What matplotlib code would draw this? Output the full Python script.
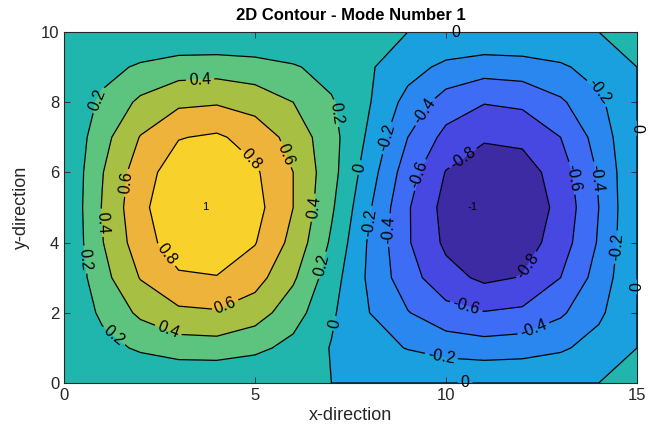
import matplotlib
matplotlib.use('Agg')
import numpy as np
import matplotlib.pyplot as plt

plt.rcParams['font.family'] = ['Liberation Sans', 'DejaVu Sans']

# grid of the plate
x_dir = [0, 1, 2, 3, 4, 5, 6, 7, 8, 9, 10, 11, 12, 13, 14, 15]
y_dir = [0, 1, 2, 3, 4, 5, 6, 7, 8, 9, 10]

# first mode shape, one row per y value (y = 0 ... 10)
mode_1 = [
    [0, 0.00, 0.00, 0.00, 0.00, 0.00, 0.00, 0.00, 0.00, 0.00, 0.00, 0.00, 0.00, 0.00, 0.00, 0],
    [0, 0.13, 0.23, 0.30, 0.31, 0.25, 0.14, -0.01, -0.12, -0.21, -0.28, -0.31, -0.29, -0.23, -0.12, 0],
    [0, 0.24, 0.44, 0.56, 0.58, 0.49, 0.29, 0.03, -0.20, -0.39, -0.53, -0.59, -0.56, -0.43, -0.24, 0],
    [0, 0.33, 0.61, 0.77, 0.79, 0.68, 0.43, 0.09, -0.24, -0.52, -0.73, -0.84, -0.79, -0.60, -0.32, 0],
    [0, 0.39, 0.71, 0.91, 0.94, 0.81, 0.54, 0.17, -0.23, -0.58, -0.84, -0.95, -0.90, -0.70, -0.38, 0],
    [0, 0.41, 0.75, 0.96, 1.00, 0.87, 0.60, 0.23, -0.18, -0.58, -0.87, -1.00, -0.95, -0.74, -0.40, 0],
    [0, 0.39, 0.71, 0.91, 0.94, 0.83, 0.60, 0.27, -0.11, -0.51, -0.81, -0.95, -0.90, -0.70, -0.38, 0],
    [0, 0.33, 0.61, 0.79, 0.83, 0.72, 0.53, 0.27, -0.04, -0.40, -0.66, -0.77, -0.75, -0.60, -0.32, 0],
    [0, 0.24, 0.44, 0.56, 0.58, 0.52, 0.40, 0.22, 0.01, -0.27, -0.49, -0.59, -0.56, -0.43, -0.24, 0],
    [0, 0.13, 0.23, 0.30, 0.31, 0.28, 0.22, 0.13, 0.02, -0.12, -0.25, -0.31, -0.29, -0.23, -0.12, 0],
    [0, 0.00, 0.00, 0.00, 0.00, 0.00, 0.00, 0.00, 0.00, 0.00, 0.00, 0.00, 0.00, 0.00, 0.00, 0],
]

levels = [-1.0, -0.8, -0.6, -0.4, -0.2, 0.0, 0.2, 0.4, 0.6, 0.8, 1.0]

# parula-like fill colours, lowest band first
band_colors = ['#3d2ba3', '#4747e2', '#3e6cf4', '#2a87ef', '#1a9fdf',
               '#20b6ad', '#5cc47e', '#a7bf42', '#eeb33a', '#f8d22b']

X, Y = np.meshgrid(x_dir, y_dir)
Z = np.array(mode_1)

# zero counts as the upper side (z >= level), like matlab's contourf
lv = [l if l != 0 else -1e-9 for l in levels]

fig = plt.figure(figsize=(6.5, 4.41), dpi=100)
ax = fig.add_axes([64 / 650, (441 - 383) / 441, 573 / 650, 351 / 441])

ax.contourf(X, Y, Z, levels=lv, colors=band_colors)
cs = ax.contour(X, Y, Z, levels=lv[1:-1], colors='k', linewidths=0.9,
                linestyles='solid')

label_spots = [
    (0.42, 3.5), (1.0, 8.0), (7.2, 7.7), (6.6, 3.4), (1.2, 1.2),
    (3.56, 8.63), (6.5, 5.0), (0.9, 4.56), (2.7, 1.42),
    (6.0, 6.6), (1.65, 5.7), (4.16, 2.36),
    (5.05, 6.55), (2.57, 3.56),
    (10.26, 9.97), (14.1, 8.35), (9.58, 7.64), (8.45, 6.98), (7.67, 6.15),
    (15.0, 7.26), (9.32, 5.93), (10.45, 6.4), (13.3, 5.84), (14.0, 5.84),
    (7.83, 4.6), (8.45, 4.36), (14.47, 3.87), (15.0, 2.74), (12.1, 3.36),
    (10.45, 1.88), (12.28, 1.57), (9.84, 0.57), (10.5, 0.0), (6.88, 1.74),
]
labels = ax.clabel(cs, fmt=lambda v: f'{round(v, 1) + 0.0:g}', fontsize=11.5,
                   manual=label_spots, inline=True, inline_spacing=3)
# labels sitting on the frame may stick out of it
for t in labels:
    t.set_clip_on(False)

# the peaks only get a tiny label
for idx in [Z.argmax(), Z.argmin()]:
    j, i = np.unravel_index(idx, Z.shape)
    ax.text(x_dir[i] - 0.3, y_dir[j], f'{Z[j, i]:g}', fontsize=8,
            ha='center', va='center')

ax.set_xlim(0, 15)
ax.set_ylim(0, 10)
ax.set_xticks([0, 5, 10, 15])
ax.set_yticks([0, 2, 4, 6, 8, 10])
ax.tick_params(direction='in', top=True, right=True, length=4, width=0.6,
               labelsize=12, labelcolor='#262626', color='#262626')
for sp in ax.spines.values():
    sp.set_color('#262626')
    sp.set_linewidth(0.8)

ax.set_title('2D Contour - Mode Number 1', fontsize=12, fontweight='bold', pad=9)
ax.set_xlabel('x-direction', fontsize=13, color='#262626', labelpad=3)
ax.set_ylabel('y-direction', fontsize=13, color='#262626', labelpad=8)

fig.savefig('out.png', dpi=100)
